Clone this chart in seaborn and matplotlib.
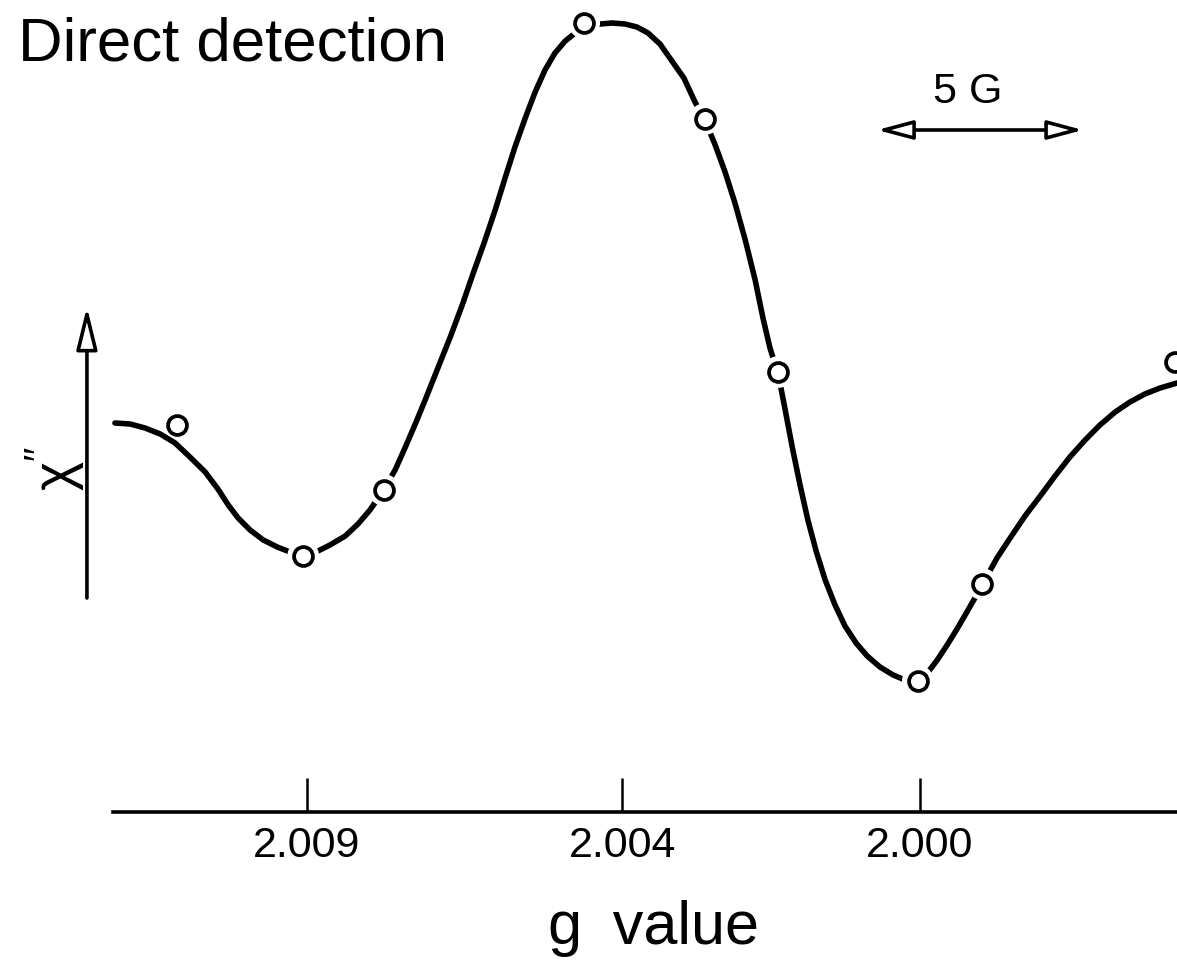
import matplotlib
matplotlib.use("Agg")
import matplotlib.pyplot as plt
import seaborn as sns
import pandas as pd

# ---- data (field offset in G from g = 2.004, signal in arb. units) ----
field_curve = [-12.31, -11.94, -11.58, -11.21, -10.85, -10.49, -10.12, -9.81, -9.56, -9.32,
               -9.03, -8.71, -8.37, -8.06, -7.74, -7.43, -7.09, -6.72, -6.41, -6.12,
               -5.80, -5.51, -5.27, -5.02, -4.78, -4.49, -4.17, -3.88, -3.62, -3.35,
               -3.08, -2.84, -2.60, -2.35, -2.11, -1.87, -1.63, -1.38, -1.14, -0.85,
               -0.53, -0.24, 0.07, 0.36, 0.63, 0.92, 1.21, 1.50, 1.77, 2.01,
               2.26, 2.50, 2.74, 2.99, 3.23, 3.42, 3.59, 3.79, 3.96, 4.13,
               4.32, 4.51, 4.71, 4.93, 5.17, 5.41, 5.68, 5.95, 6.26, 6.58,
               6.87, 7.06, 7.23, 7.43, 7.65, 7.89, 8.13, 8.37, 8.62, 8.86,
               9.10, 9.42, 9.78, 10.15, 10.51, 10.87, 11.24, 11.60, 11.97, 12.33,
               12.69, 13.06, 13.47]
chi_curve = [38.9, 38.8, 38.4, 37.8, 36.9, 35.5, 34.0, 32.3, 30.7, 29.4,
             28.2, 27.2, 26.5, 26.0, 25.7, 26.0, 26.7, 27.6, 28.8, 30.2,
             32.1, 34.2, 36.4, 38.8, 41.2, 44.2, 47.5, 50.7, 53.8, 56.9,
             60.2, 63.4, 66.5, 69.4, 72.0, 74.2, 75.9, 77.1, 77.9, 78.5,
             78.8, 78.9, 78.8, 78.5, 77.9, 76.8, 75.1, 73.4, 71.0, 69.2,
             66.7, 64.0, 60.9, 57.2, 53.2, 49.4, 46.4, 43.8, 40.2, 36.5,
             32.7, 29.2, 26.1, 23.2, 20.7, 18.6, 16.9, 15.6, 14.5, 13.7,
             13.2, 12.9, 13.2, 14.0, 15.2, 16.7, 18.3, 20.0, 21.8, 23.6,
             25.4, 27.4, 29.6, 31.6, 33.6, 35.5, 37.2, 38.7, 40.0, 41.0,
             41.8, 42.4, 42.9]

field_pts = [-10.80, -7.74, -5.78, -0.92, 2.01, 3.79, 7.18, 8.74, 13.42]
chi_pts = [38.7, 25.6, 32.2, 78.9, 69.3, 44.0, 13.1, 22.8, 45.0]

g_ticks = [-7.65, 0.0, 7.23]
g_labels = ["2.009", "2.004", "2.000"]

curve = pd.DataFrame({"field": field_curve, "chi": chi_curve})
pts = pd.DataFrame({"field": field_pts, "chi": chi_pts})

sns.set_style("white")
plt.rcParams["font.family"] = ["Liberation Sans", "DejaVu Sans"]
plt.rcParams["mathtext.default"] = "regular"
plt.rcParams["text.color"] = "black"
plt.rcParams["axes.labelcolor"] = "black"

fig = plt.figure(figsize=(11.77, 9.61), dpi=100)
ax = fig.add_axes([0, 0, 1, 1])

sns.lineplot(data=curve, x="field", y="chi", sort=False, estimator=None,
             color="black", lw=4.0, ax=ax, zorder=2)
ax.lines[0].set_solid_capstyle("round")
ax.lines[0].set_solid_joinstyle("round")
# white halo so the line breaks around the points sitting on it (first point is off the curve)
sns.scatterplot(data=pts.iloc[1:], x="field", y="chi", s=520, color="white",
                edgecolor="none", ax=ax, zorder=3)
sns.scatterplot(data=pts, x="field", y="chi", s=185, facecolor="white",
                edgecolor="black", linewidth=2.7, ax=ax, zorder=4)

ax.set_xlim(-15.10, 13.47)
ax.set_ylim(-14.9, 81.2)

# x axis: a single baseline with inward ticks
for s in ["top", "right", "left"]:
    ax.spines[s].set_visible(False)
ax.spines["bottom"].set_position(("data", 0))
ax.spines["bottom"].set_bounds(-12.35, 13.47)
ax.spines["bottom"].set_linewidth(2.6)
ax.spines["bottom"].set_color("black")
ax.set_xticks(g_ticks)
ax.set_xticklabels(g_labels)
ax.tick_params(axis="x", bottom=True, direction="in", length=24.5, width=1.8,
               pad=10, labelsize=31, colors="black")
ax.set_yticks([])
ax.set_ylabel("")
ax.set_xlabel("")
ax.text(0.555, 0.018, "g\u2002value", transform=ax.transAxes, fontsize=44,
        ha="center", va="baseline")

# chi'' arrow on the left
ax.annotate("", xy=(-12.99, 50.5), xytext=(-12.99, 21.4),
            arrowprops=dict(arrowstyle="-|>,head_length=1.3,head_width=0.32",
                            mutation_scale=20, fc="white", ec="black", lw=2.6,
                            shrinkA=0, shrinkB=0))
ax.text(-13.75, 34.4, r"$\chi''$", rotation=90, fontsize=40,
        ha="center", va="center")

# 5 G scale bar
ax.annotate("", xy=(11.19, 68.2), xytext=(6.19, 68.2),
            arrowprops=dict(arrowstyle="<|-|>,head_length=1.2,head_width=0.32",
                            mutation_scale=18, fc="white", ec="black", lw=2.6,
                            shrinkA=0, shrinkB=0))
ax.text(8.4, 72.0, "5 G", fontsize=31, ha="center", va="center")

ax.text(0.015, 0.983, "Direct detection", transform=ax.transAxes,
        fontsize=44.5, ha="left", va="top")

fig.savefig("out.png", dpi=100, facecolor="white")
